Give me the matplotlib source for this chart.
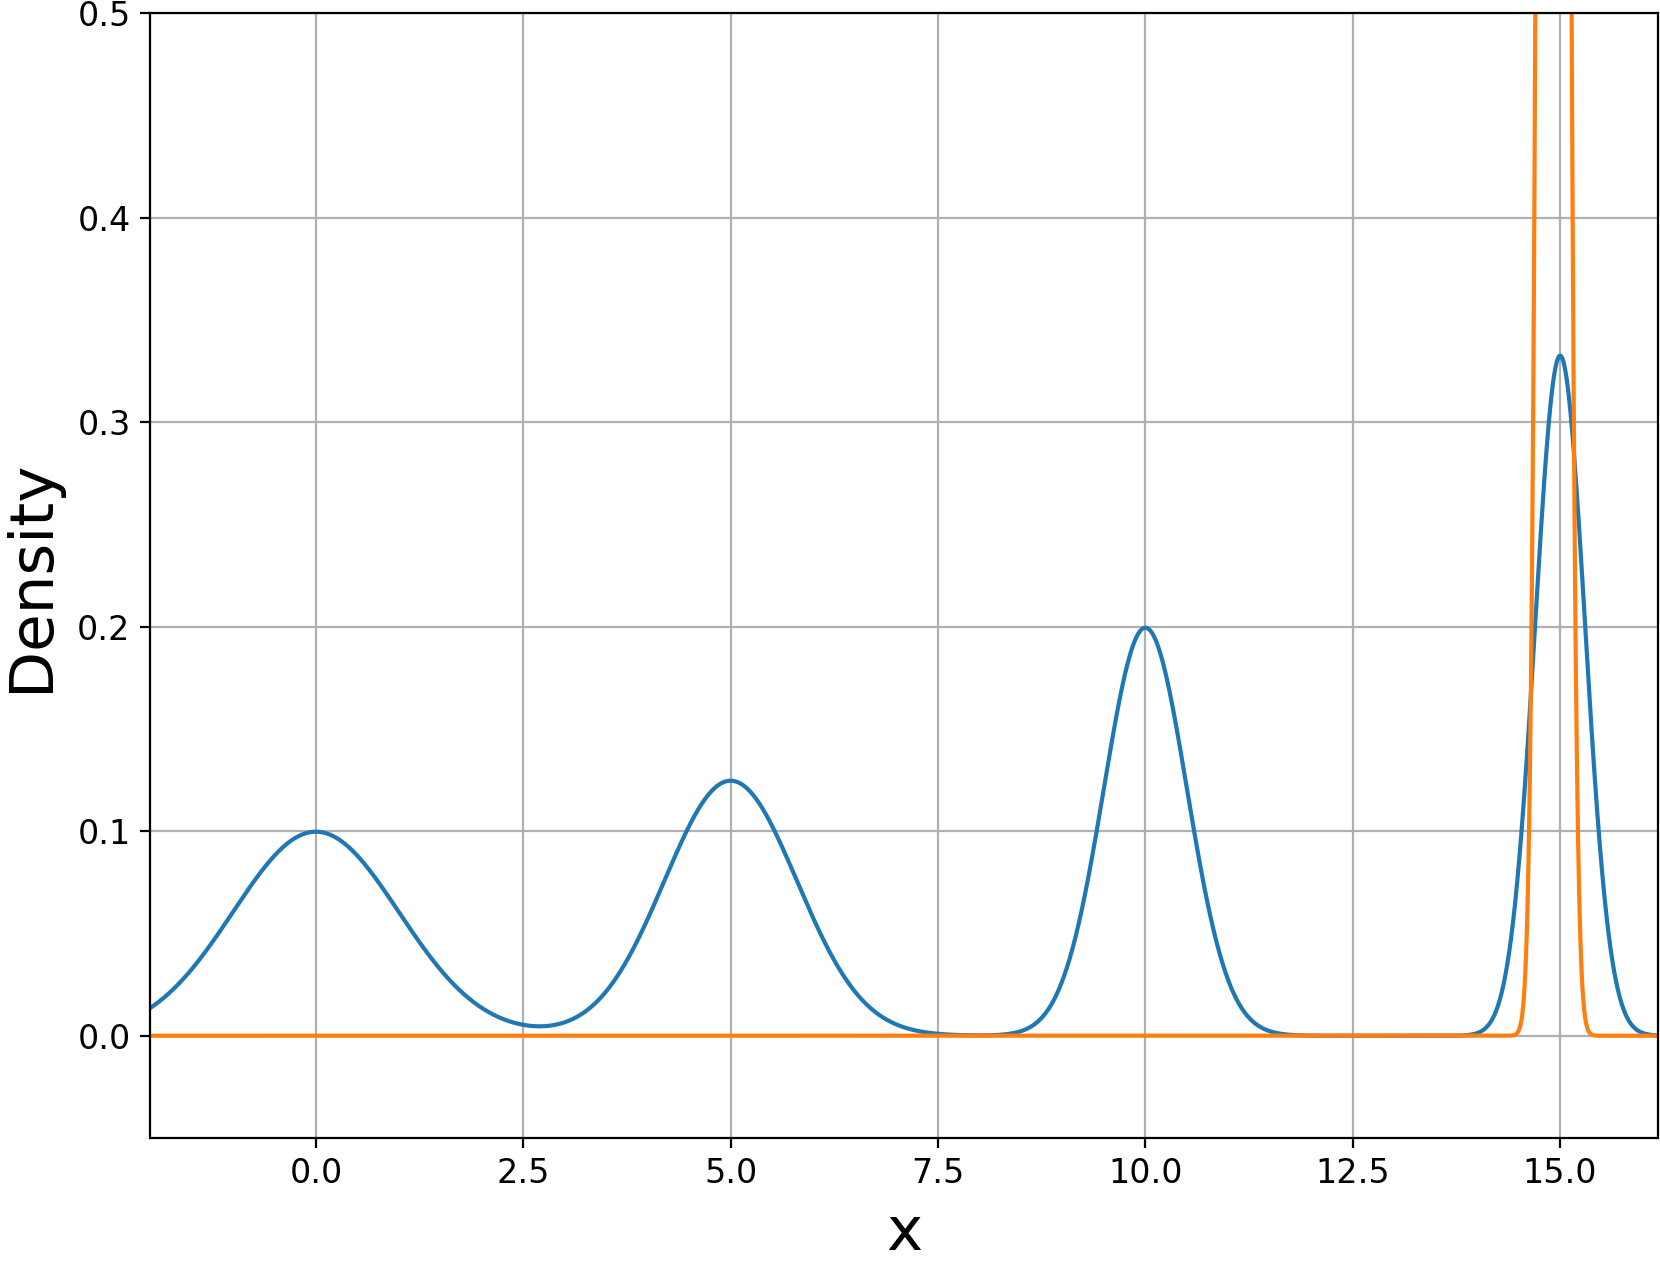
import numpy as np
import matplotlib
matplotlib.use("Agg")
import matplotlib.pyplot as plt

# Blue: mixture of Gaussians (parameters)
blue_means = [0.0, 5.0, 10.0, 15.0]
blue_sigmas = [1.0, 0.8, 0.5, 0.3]
blue_weights = [0.25, 0.25, 0.25, 0.25]

# Orange: narrow single Gaussian
orange_means = [14.92]
orange_sigmas = [0.11]
orange_weights = [1.0]

x_min, x_max = -2.0, 16.18
y_min, y_max = -0.05, 0.5
x_ticks = [0.0, 2.5, 5.0, 7.5, 10.0, 12.5, 15.0]
y_ticks = [0.0, 0.1, 0.2, 0.3, 0.4, 0.5]


def mixture(x, means, sigmas, weights):
    out = np.zeros_like(x)
    for m, s, w in zip(means, sigmas, weights):
        out += w * np.exp(-0.5 * ((x - m) / s) ** 2) / (s * np.sqrt(2 * np.pi))
    return out


x = np.linspace(x_min, x_max, 4000)

DPI = 200
fig = plt.figure(figsize=(1660 / DPI, 1267 / DPI), dpi=DPI)
ax = fig.add_axes([150 / 1660, 1 - 1138 / 1267, (1658 - 150) / 1660, (1138 - 13) / 1267])
ax.plot(x, mixture(x, blue_means, blue_sigmas, blue_weights), color="#1f77b4", lw=1.5)
ax.plot(x, mixture(x, orange_means, orange_sigmas, orange_weights), color="#ff7f0e", lw=1.5)
ax.set_xlim(x_min, x_max)
ax.set_ylim(y_min, y_max)
ax.set_xticks(x_ticks)
ax.set_yticks(y_ticks)
ax.grid(True)
ax.tick_params(labelsize=12)
ax.set_xlabel("x", fontsize=22, labelpad=5)
ax.set_ylabel("Density", fontsize=22, labelpad=6)
fig.savefig("out.png", dpi=DPI)
